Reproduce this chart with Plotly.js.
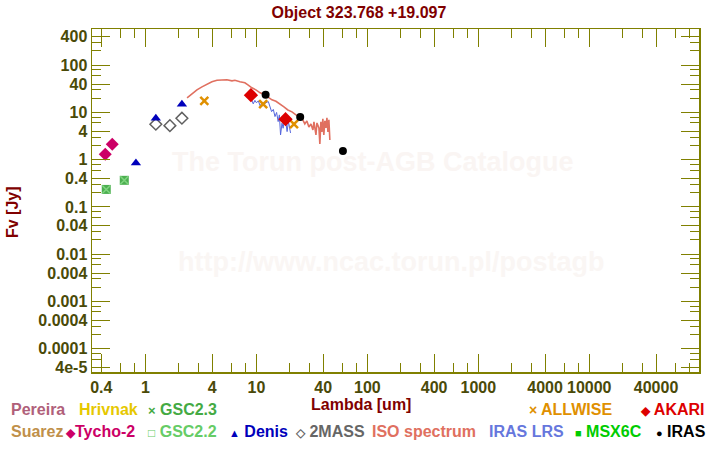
<!DOCTYPE html>
<html>
<head>
<meta charset="utf-8">
<script src="https://cdn.plot.ly/plotly-3.0.1.min.js"></script>
<style>html,body{margin:0;padding:0;background:#fff;}#chart{width:720px;height:450px;}</style>
</head>
<body>
<div id="chart"></div>
<script>
// ---- data ----
const tychoLam = [0.434, 0.502];
const tychoF   = [1.30, 2.12];
const gscLam   = [0.443, 0.644];
const gscF     = [0.235, 0.366];
const denisLam = [0.82, 1.24, 2.13];
const denisF   = [0.85, 7.55, 15.0];
const massLam  = [1.24, 1.66, 2.13];
const massF    = [5.64, 5.26, 7.55];
const wiseLam  = [3.39, 11.5, 21.8];
const wiseF    = [17.6, 15.0, 5.64];
const akariLam = [8.92, 18.3];
const akariF   = [23.2, 7.19];
const irasLam  = [12.1, 24.8, 60.2];
const irasF    = [23.6, 8.05, 1.53];

const isoLam = [2.37, 2.62, 2.91, 3.23, 3.58, 3.97, 4.41, 4.89, 5.42, 6.02, 6.40, 7.10, 7.87, 8.38, 9.10, 9.89,
  10.8, 11.7, 12.7, 13.8, 15.0, 16.3, 17.7, 19.2, 20.9, 22.7, 24.7, 26.2, 27.3, 28.5, 29.7, 31.0, 32.3, 33.0,
  34.4, 35.1, 36.6, 37.3, 38.1, 38.9, 39.7, 40.5, 41.4, 42.3, 43.2, 44.1, 45.0, 45.9];
const isoF = [20.4, 24.9, 30.1, 34.8, 39.4, 44.5, 47.9, 49.1, 49.1, 46.7, 47.9, 44.5, 42.4, 38.4, 33.2, 30.1,
  26.0, 24.2, 21.4, 18.5, 17.2, 15.2, 13.1, 11.3, 10.3, 8.87, 8.05, 6.95, 5.71, 6.62, 4.94, 5.71, 4.27, 6.31,
  3.34, 6.00, 4.70, 2.15, 6.31, 3.87, 7.30, 3.34, 6.62, 4.70, 7.67, 3.87, 6.95, 2.62];

const lrsLam = [8.16, 8.56, 9.05, 9.36, 9.69, 10.0, 10.4, 10.8, 11.2, 11.9, 12.8, 13.2, 13.7, 14.2, 14.7, 15.2,
  15.7, 16.1, 16.5, 17.0, 17.4, 17.9, 18.4, 18.9, 19.4, 19.7, 20.3];
const lrsF = [23.6, 20.4, 18.5, 15.2, 18.0, 16.0, 17.6, 13.8, 16.0, 15.6, 17.0, 13.3, 10.4, 11.6, 8.17, 10.0,
  6.40, 8.88, 3.34, 5.92, 4.63, 7.30, 6.40, 3.93, 6.31, 5.45, 3.68];

const xTickVals = [0.4, 1, 4, 10, 40, 100, 400, 1000, 4000, 10000, 40000];
const xTickText = ['0.4','1','4','10','40','100','400','1000','4000','10000','40000'];
const yTickVals = [4e-5, 1e-4, 4e-4, 0.001, 0.004, 0.01, 0.04, 0.1, 0.4, 1, 4, 10, 40, 100, 400];
const yTickText = ['4e-5','0.0001','0.0004','0.001','0.004','0.01','0.04','0.1','0.4','1','4','10','40','100','400'];
const minorMult = [2, 3, 6, 8];

// ---- layout helpers ----
const L = 92, R = 699, T = 29, B = 372;
const px = x => (x - L) / (R - L);
const py = y => (B - y) / (B - T);
function minorTicks(lo, hi) {
  const out = [];
  for (let e = lo; e <= hi; e++) minorMult.forEach(m => out.push(m * Math.pow(10, e)));
  return out;
}

const FONT = '"Liberation Sans", Arial, sans-serif';
const AX = '#808000';
const TICKC = '#4a4a08';

const traces = [
  {x: isoLam, y: isoF, mode: 'lines', line: {color: '#e07060', width: 1.6}},
  {x: lrsLam, y: lrsF, mode: 'lines', line: {color: '#5566dd', width: 1}},
  {x: gscLam, y: gscF, mode: 'markers', marker: {symbol: 'square', size: 9, color: '#4caf50', line: {width: 0}}},
  {x: gscLam, y: gscF, mode: 'markers', marker: {symbol: 'x-thin-open', size: 8, color: '#7fd47f', line: {width: 1.5, color: '#7fd47f'}}},
  {x: tychoLam, y: tychoF, mode: 'markers', marker: {symbol: 'diamond', size: 10, color: '#cc0066'}},
  {x: massLam, y: massF, mode: 'markers', marker: {symbol: 'diamond-open', size: 9, color: '#606060', line: {width: 1.5, color: '#606060'}}},
  {x: denisLam, y: denisF, mode: 'markers', marker: {symbol: 'triangle-up', size: 9, color: '#0000bb'}},
  {x: wiseLam, y: wiseF, mode: 'markers', marker: {symbol: 'x-thin-open', size: 8, color: '#e09000', line: {width: 2.5, color: '#e09000'}}},
  {x: akariLam, y: akariF, mode: 'markers', marker: {symbol: 'diamond', size: 11, color: '#dd0000'}},
  {x: irasLam, y: irasF, mode: 'markers', marker: {symbol: 'circle', size: 8, color: '#000000'}}
];

const legendEntries = [
  [10, 409, 'Pereira', '#b0607a'],
  [78, 409, 'Hrivnak', '#e6c800'],
  [147, 409, '<span style="font-size:13px">×</span> GSC2.3', '#44aa44'],
  [528, 409, '<span style="font-size:14px">×</span> ALLWISE', '#e09000'],
  [639, 409, '<span style="font-size:12px">◆</span> AKARI', '#dd0000'],
  [10, 431, 'Suarez', '#c0904a'],
  [64, 431, '<span style="font-size:12px">◆</span>Tycho-2', '#cc0066'],
  [147, 431, '<span style="font-size:12px">□</span> GSC2.2', '#66cc66'],
  [228, 431, '<span style="font-size:11px">▲</span> Denis', '#0000bb'],
  [294, 431, '<span style="font-size:12px">◇</span> 2MASS', '#666666'],
  [371, 431, 'ISO spectrum', '#e07060'],
  [488, 431, 'IRAS LRS', '#6677dd'],
  [574, 431, '<span style="font-size:11px">■</span> MSX6C', '#00cc00'],
  [655, 431, '<span style="font-size:11px">●</span> IRAS', '#000000']
];

const annotations = legendEntries.map(e => ({
  xref: 'paper', yref: 'paper', x: px(e[0]), y: py(e[1]), xanchor: 'left', yanchor: 'middle',
  text: e[2], showarrow: false, font: {family: FONT, size: 16, color: e[3], weight: 'bold'}, borderpad: 0
}));
annotations.push(
  {xref: 'paper', yref: 'paper', x: px(361), y: py(404), xanchor: 'center', yanchor: 'middle', text: 'Lambda [um]',
   showarrow: false, font: {family: FONT, size: 16, color: '#800000', weight: 'bold'}},
  {xref: 'paper', yref: 'paper', x: px(12), y: py(212), xanchor: 'center', yanchor: 'middle', text: 'Fv [Jy]', textangle: -90,
   showarrow: false, font: {family: FONT, size: 16, color: '#800000', weight: 'bold'}},
  {xref: 'paper', yref: 'paper', x: px(372), y: py(162), xanchor: 'center', yanchor: 'middle', text: 'The Torun post-AGB Catalogue',
   showarrow: false, font: {family: FONT, size: 27, color: '#faf5f3', weight: 'bold'}},
  {xref: 'paper', yref: 'paper', x: px(391), y: py(262), xanchor: 'center', yanchor: 'middle', text: 'http://www.ncac.torun.pl/postagb',
   showarrow: false, font: {family: FONT, size: 27, color: '#faf6f4', weight: 'bold'}}
);

const layout = {
  width: 720, height: 450,
  margin: {l: L, r: 720 - R, t: T, b: 450 - B, pad: 0},
  paper_bgcolor: '#ffffff', plot_bgcolor: '#ffffff',
  showlegend: false,
  title: {text: 'Object 323.768 +19.097', x: 359 / 720, xref: 'container', xanchor: 'center',
          y: 1 - 12 / 450, yref: 'container', yanchor: 'middle',
          font: {family: FONT, size: 16, color: '#800000', weight: 'bold'}},
  xaxis: {
    type: 'log', range: [-0.482, 4.989], showgrid: false, zeroline: false,
    showline: true, linecolor: AX, linewidth: 1.5, mirror: 'allticks',
    ticks: 'inside', ticklen: 18, tickwidth: 1, tickcolor: AX,
    tickmode: 'array', tickvals: xTickVals, ticktext: xTickText,
    tickfont: {family: FONT, size: 16, color: TICKC, weight: 'bold'},
    minor: {tickmode: 'array', tickvals: minorTicks(-1, 4), ticks: 'inside', ticklen: 9, tickwidth: 1, tickcolor: AX, showgrid: false}
  },
  yaxis: {
    type: 'log', range: [-4.493, 2.766], showgrid: false, zeroline: false,
    showline: true, linecolor: AX, linewidth: 1.5, mirror: 'allticks',
    ticks: 'inside', ticklen: 18, tickwidth: 1, tickcolor: AX,
    tickmode: 'array', tickvals: yTickVals, ticktext: yTickText,
    tickfont: {family: FONT, size: 16, color: TICKC, weight: 'bold'},
    minor: {tickmode: 'array', tickvals: minorTicks(-5, 2), ticks: 'inside', ticklen: 9, tickwidth: 1, tickcolor: AX, showgrid: false}
  },
  annotations: annotations
};

Plotly.newPlot('chart', traces, layout, {displayModeBar: false, staticPlot: true});
</script>
</body>
</html>
